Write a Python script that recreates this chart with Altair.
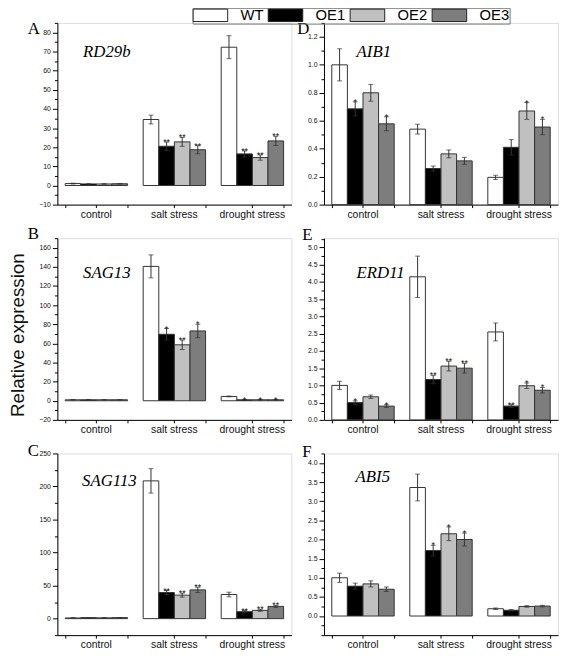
import altair as alt
import pandas as pd

groups = ["control", "salt stress", "drought stress"]
lines = ["WT", "OE1", "OE2", "OE3"]
colors = ["#ffffff", "#000000", "#c0c0c0", "#7d7d7d"]

letters = ["A", "B", "C", "D", "E", "F"]
genes = ["RD29b", "SAG13", "SAG113", "AIB1", "ERD11", "ABI5"]

# values ordered: control (WT, OE1, OE2, OE3), salt stress (...), drought stress (...)
rd29b_mean = [1.0, 0.8, 0.8, 0.9, 34.5, 20.5, 22.8, 18.7, 72.3, 16.5, 14.6, 23.3]
rd29b_err = [0.2, 0.1, 0.1, 0.1, 2.3, 2.2, 2.3, 2.1, 6.0, 1.6, 1.4, 2.4]
rd29b_sig = ["", "", "", "", "", "**", "**", "**", "", "**", "**", "**"]

sag13_mean = [1.0, 1.0, 1.0, 1.0, 140.5, 69.5, 58.5, 73.0, 4.5, 1.0, 1.0, 1.0]
sag13_err = [0.3, 0.2, 0.2, 0.2, 12.0, 6.0, 5.0, 7.0, 0.4, 0.2, 0.2, 0.2]
sag13_sig = ["", "", "", "", "", "*", "**", "*", "", "*", "*", "*"]

sag113_mean = [1.0, 1.5, 1.2, 1.5, 208.5, 39.5, 35.5, 43.5, 36.5, 10.5, 12.5, 18.5]
sag113_err = [0.3, 0.4, 0.3, 0.3, 18.5, 3.0, 3.0, 4.0, 3.5, 1.5, 1.5, 1.5]
sag113_sig = ["", "", "", "", "", "**", "**", "**", "", "**", "**", "**"]

aib1_mean = [1.0, 0.685, 0.80, 0.578, 0.54, 0.258, 0.363, 0.313, 0.195, 0.41, 0.67, 0.555]
aib1_err = [0.115, 0.05, 0.06, 0.05, 0.035, 0.018, 0.028, 0.025, 0.015, 0.055, 0.06, 0.055]
aib1_sig = ["", "*", "", "*", "", "", "", "", "", "", "*", "*"]

erd11_mean = [1.0, 0.5, 0.67, 0.4, 4.15, 1.17, 1.56, 1.5, 2.55, 0.4, 0.99, 0.86]
erd11_err = [0.12, 0.05, 0.05, 0.04, 0.6, 0.12, 0.14, 0.14, 0.26, 0.04, 0.08, 0.08]
erd11_sig = ["", "*", "", "*", "", "**", "**", "**", "", "**", "*", "*"]

abi5_mean = [1.0, 0.78, 0.84, 0.70, 3.36, 1.71, 2.15, 2.0, 0.19, 0.15, 0.25, 0.26]
abi5_err = [0.12, 0.08, 0.08, 0.06, 0.35, 0.14, 0.18, 0.17, 0.02, 0.02, 0.02, 0.02]
abi5_sig = ["", "", "", "", "", "*", "*", "*", "", "", "", ""]

# axis domains and tick values
rd29b_domain = [-10, 85]
rd29b_major = [-10, 0, 10, 20, 30, 40, 50, 60, 70, 80]
rd29b_minor = [-5, 5, 15, 25, 35, 45, 55, 65, 75, 85]

sag13_domain = [-20, 170]
sag13_major = [-20, 0, 20, 40, 60, 80, 100, 120, 140, 160]
sag13_minor = [-10, 10, 30, 50, 70, 90, 110, 130, 150, 170]

sag113_domain = [-25, 250]
sag113_major = [0, 50, 100, 150, 200, 250]
sag113_minor = [-25, 25, 75, 125, 175, 225]

aib1_domain = [0, 1.3]
aib1_major = [0.0, 0.2, 0.4, 0.6, 0.8, 1.0, 1.2]
aib1_minor = [0.1, 0.3, 0.5, 0.7, 0.9, 1.1, 1.3]

erd11_domain = [0, 5.27]
erd11_major = [0.0, 0.5, 1.0, 1.5, 2.0, 2.5, 3.0, 3.5, 4.0, 4.5, 5.0]
erd11_minor = [0.25, 0.75, 1.25, 1.75, 2.25, 2.75, 3.25, 3.75, 4.25, 4.75, 5.25]

abi5_domain = [-0.5, 4.25]
abi5_major = [0.0, 0.5, 1.0, 1.5, 2.0, 2.5, 3.0, 3.5, 4.0]
abi5_minor = [-0.5, -0.25, 0.25, 0.75, 1.25, 1.75, 2.25, 2.75, 3.25, 3.75, 4.25]

W, H = 237, 184
SANS = "Liberation Sans"
SERIF = "Liberation Serif"

legend = alt.Legend(
    title=None, orient="none", legendX=137, legendY=-15.3, direction="horizontal",
    columns=4, symbolType="M-2.5,-0.9H2.5V0.9H-2.5Z", symbolSize=196,
    symbolOffset=10.5, symbolStrokeColor="#222", symbolStrokeWidth=1, symbolOpacity=1,
    labelFont=SANS, labelFontSize=15, labelColor="#000", labelOffset=23,
    columnPadding=2, padding=0, strokeColor="#777",
)


def panel(mean, err, sig, domain, major, minor, fmt, letter, gene,
          lx, ly, gx, gy, ytitle=None):
    df = pd.DataFrame({
        "group": [g for g in groups for _ in lines],
        "line": lines * len(groups),
        "mean": mean, "err": err, "sig": sig,
    })
    df["hi"] = df["mean"] + df["err"]
    df["lo"] = df["mean"] - df["err"]

    xs = alt.Scale(domain=groups, paddingInner=0.2, paddingOuter=0.1)
    xo = alt.XOffset("line:N", sort=lines,
                     scale=alt.Scale(domain=lines, paddingInner=0, paddingOuter=0))
    ys = alt.Scale(domain=domain, nice=False, zero=True)

    yaxis_kw = dict(values=major, format=fmt, orient="left", grid=False,
                    labelFont=SANS, labelFontSize=7, labelColor="#111",
                    tickSize=5, tickColor="#000", domainColor="#000",
                    labelPadding=2)
    if ytitle:
        yaxis_kw.update(title=ytitle, titleFont=SANS, titleFontSize=19,
                        titleFontWeight="normal", titleColor="#111",
                        titleAngle=-90, titleBaseline="bottom", titleAlign="center",
                        titleX=-30, titleY=97.7)
    else:
        yaxis_kw.update(title=None)

    bars = alt.Chart(df).mark_bar(stroke="#333", strokeWidth=1).encode(
        x=alt.X("group:N", sort=groups, scale=xs,
                axis=alt.Axis(title=None, labelAngle=0, orient="bottom",
                              labelFont=SANS, labelFontSize=10.5, labelColor="#111",
                              tickSize=3, tickColor="#000", domainColor="#000",
                              labelPadding=2)),
        xOffset=xo,
        y=alt.Y("mean:Q", scale=ys, axis=alt.Axis(**yaxis_kw)),
        color=alt.Color("line:N", sort=lines,
                        scale=alt.Scale(domain=lines, range=colors), legend=legend),
    )
    rules = alt.Chart(df).mark_rule(color="#333", strokeWidth=1).encode(
        x=alt.X("group:N", sort=groups, scale=xs,
                axis=alt.Axis(title=None, labels=False, domain=False, orient="bottom",
                              tickBand="extent", tickSize=3, tickColor="#000")),
        xOffset=xo,
        y=alt.Y("lo:Q", scale=ys,
                axis=alt.Axis(values=minor, labels=False, domain=False, title=None,
                              orient="left", tickSize=3, tickColor="#000", grid=False)),
        y2="hi:Q",
    )
    cap_hi = alt.Chart(df).mark_tick(color="#333", thickness=1, size=5).encode(
        x=alt.X("group:N", sort=groups, scale=xs, axis=None), xOffset=xo,
        y=alt.Y("hi:Q", scale=ys, axis=None),
    )
    cap_lo = alt.Chart(df).mark_tick(color="#333", thickness=1, size=5).encode(
        x=alt.X("group:N", sort=groups, scale=xs, axis=None), xOffset=xo,
        y=alt.Y("lo:Q", scale=ys, axis=None),
    )
    stars = alt.Chart(df).mark_text(font=SANS, fontSize=9, baseline="alphabetic",
                                    dy=3, color="#111").encode(
        x=alt.X("group:N", sort=groups, scale=xs, axis=None), xOffset=xo,
        y=alt.Y("hi:Q", scale=ys, axis=None),
        text="sig:N",
    )
    ann = alt.Chart(pd.DataFrame({"letter": [letter], "gene": [gene]}))
    letter_t = ann.mark_text(font=SERIF, fontSize=17, align="left",
                             baseline="alphabetic", color="#000").encode(
        x=alt.value(lx), y=alt.value(ly), text="letter:N")
    gene_t = ann.mark_text(font=SERIF, fontStyle="italic", fontSize=17, align="left",
                           baseline="alphabetic", color="#000").encode(
        x=alt.value(gx), y=alt.value(gy), text="gene:N")

    return alt.layer(bars, rules, cap_hi, cap_lo, stars, letter_t, gene_t).resolve_axis(
        x="independent", y="independent").properties(width=W, height=H)


pA = panel(rd29b_mean, rd29b_err, rd29b_sig, rd29b_domain, rd29b_major, rd29b_minor, "d",
           letters[0], genes[0], -30, 11.7, 26, 34.7)
pB = panel(sag13_mean, sag13_err, sag13_sig, sag13_domain, sag13_major, sag13_minor, "d",
           letters[1], genes[1], -30, 0.7, 26, 40.7, ytitle="Relative expression")
pC = panel(sag113_mean, sag113_err, sag113_sig, sag113_domain, sag113_major, sag113_minor, "d",
           letters[2], genes[2], -30, 2.7, 25, 32.7)
pD = panel(aib1_mean, aib1_err, aib1_sig, aib1_domain, aib1_major, aib1_minor, ".1f",
           letters[3], genes[3], -27, 11.7, 33, 34.7)
pE = panel(erd11_mean, erd11_err, erd11_sig, erd11_domain, erd11_major, erd11_minor, ".1f",
           letters[4], genes[4], -22, 1.7, 33, 40.7)
pF = panel(abi5_mean, abi5_err, abi5_sig, abi5_domain, abi5_major, abi5_minor, ".1f",
           letters[5], genes[5], -22, 3.7, 32, 28.7)

chart = alt.concat(pA, pD, pB, pE, pC, pF, columns=2,
                   spacing={"row": 34, "column": 33}, bounds="flush").resolve_scale(
    color="shared").properties(
    padding={"left": 0, "top": -5, "right": 0, "bottom": 0}).configure_view(
    stroke=None).configure_legend(strokeWidth=1.5).configure(background="#ffffff")

chart.save("out.html", embed_options={"renderer": "svg", "actions": False})
